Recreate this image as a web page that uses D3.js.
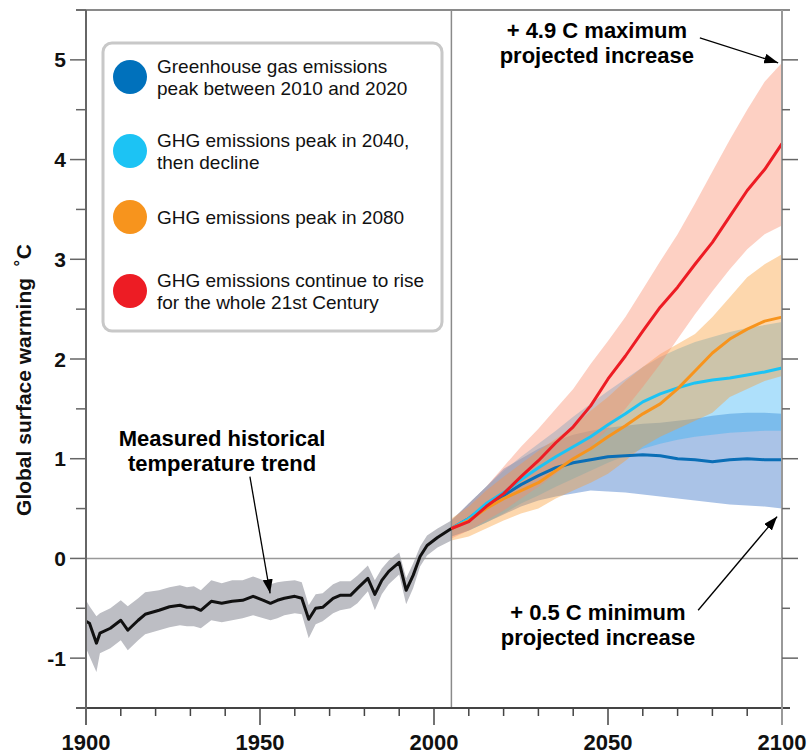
<!DOCTYPE html>
<html>
<head>
<meta charset="utf-8">
<script src="https://cdn.jsdelivr.net/npm/d3@7"></script>
<style>
    body { margin: 0; background: #fff; }
    svg { display: block; font-family: "Liberation Sans", Arial, sans-serif; }
</style>
</head>
<body>
<svg id="chart"></svg>
<script>
//measured historical trend (year, mean, band low, band high)
var histYears = [1900,1901,1903,1904,1907,1910,1912,1915,1917,1921,1924,1927,1929,1931,1933,1936,1939,1942,1945,1948,1951,1953,1955,1957,1960,1962,1964,1966,1968,1971,1973,1976,1978,1981,1983,1985,1987,1990,1992,1994,1996,1998,2001,2005]
var histMean = [-0.63,-0.65,-0.85,-0.75,-0.70,-0.62,-0.72,-0.62,-0.56,-0.52,-0.485,-0.47,-0.49,-0.49,-0.52,-0.43,-0.45,-0.43,-0.42,-0.38,-0.42,-0.45,-0.42,-0.40,-0.38,-0.40,-0.61,-0.50,-0.49,-0.40,-0.37,-0.37,-0.30,-0.20,-0.36,-0.22,-0.13,-0.04,-0.32,-0.17,0.02,0.13,0.21,0.30]
var histLow = [-0.90,-0.98,-1.14,-0.95,-0.90,-0.82,-0.92,-0.82,-0.76,-0.72,-0.69,-0.67,-0.68,-0.68,-0.70,-0.62,-0.64,-0.62,-0.60,-0.57,-0.60,-0.62,-0.60,-0.57,-0.55,-0.56,-0.80,-0.66,-0.63,-0.55,-0.52,-0.50,-0.45,-0.33,-0.52,-0.36,-0.26,-0.16,-0.46,-0.30,-0.08,0.03,0.11,0.18]
var histHigh = [-0.42,-0.48,-0.58,-0.55,-0.50,-0.42,-0.48,-0.40,-0.34,-0.32,-0.29,-0.27,-0.29,-0.28,-0.32,-0.22,-0.25,-0.22,-0.22,-0.18,-0.22,-0.26,-0.24,-0.23,-0.22,-0.24,-0.47,-0.36,-0.35,-0.26,-0.23,-0.23,-0.17,-0.07,-0.22,-0.10,-0.02,0.06,-0.20,-0.05,0.12,0.23,0.30,0.38]

//projections, every 5 years 2005-2100
var projYears = [2005,2010,2015,2020,2025,2030,2035,2040,2045,2050,2055,2060,2065,2070,2075,2080,2085,2090,2095,2100]

var darkBlueMean = [0.30,0.40,0.53,0.63,0.74,0.83,0.91,0.96,0.99,1.02,1.03,1.04,1.03,1.00,0.99,0.97,0.99,1.00,0.99,0.99]
var darkBlueLow  = [0.22,0.28,0.36,0.44,0.52,0.58,0.62,0.65,0.68,0.67,0.66,0.64,0.62,0.60,0.58,0.56,0.54,0.53,0.52,0.50]
var darkBlueHigh = [0.38,0.55,0.72,0.90,1.00,1.10,1.18,1.24,1.28,1.31,1.33,1.35,1.36,1.38,1.40,1.43,1.45,1.46,1.46,1.45]

var lightBlueMean = [0.30,0.40,0.55,0.66,0.79,0.91,1.02,1.12,1.22,1.34,1.45,1.57,1.65,1.71,1.76,1.79,1.81,1.84,1.87,1.91]
var lightBlueLow  = [0.22,0.28,0.36,0.45,0.55,0.63,0.72,0.80,0.88,0.96,1.03,1.10,1.15,1.19,1.22,1.24,1.26,1.27,1.28,1.28]
var lightBlueHigh = [0.38,0.55,0.72,0.88,1.02,1.15,1.28,1.42,1.55,1.68,1.80,1.92,2.02,2.10,2.17,2.22,2.27,2.31,2.34,2.37]

var orangeMean = [0.30,0.38,0.50,0.60,0.68,0.76,0.88,1.00,1.10,1.22,1.33,1.45,1.55,1.70,1.88,2.06,2.20,2.30,2.38,2.42]
var orangeLow  = [0.18,0.22,0.30,0.38,0.45,0.50,0.60,0.68,0.76,0.85,0.98,1.12,1.22,1.30,1.38,1.46,1.62,1.70,1.78,1.83]
var orangeHigh = [0.40,0.52,0.68,0.82,0.95,1.08,1.20,1.32,1.48,1.62,1.78,1.92,2.05,2.15,2.25,2.42,2.62,2.82,2.95,3.05]

var redMean = [0.30,0.37,0.52,0.65,0.82,0.98,1.16,1.32,1.53,1.80,2.03,2.28,2.52,2.72,2.95,3.17,3.43,3.69,3.90,4.16]
var redLow  = [0.20,0.28,0.38,0.48,0.60,0.72,0.85,0.98,1.12,1.30,1.50,1.72,1.95,2.20,2.45,2.68,2.90,3.10,3.25,3.34]
var redHigh = [0.38,0.55,0.72,0.92,1.12,1.30,1.50,1.70,1.95,2.18,2.42,2.70,2.98,3.25,3.56,3.88,4.20,4.50,4.78,4.97]

var legendLabels = [
    ["Greenhouse gas emissions", "peak between 2010 and 2020"],
    ["GHG emissions peak in 2040,", "then decline"],
    ["GHG emissions peak in 2080"],
    ["GHG emissions continue to rise", "for the whole 21st Century"]
]
var yTickLabels = [-1, 0, 1, 2, 3, 4, 5]
var xTickLabels = [1900, 1950, 2000, 2050, 2100]

var dimensions = {
    width: 811,
    height: 755,
    margin: { top: 10, bottom: 47, left: 86, right: 29 }
}

var svg = d3.select("#chart")
            .attr("width", dimensions.width)
            .attr("height", dimensions.height)

var xScale = d3.scaleLinear()
                .domain([1900, 2100])
                .range([dimensions.margin.left, dimensions.width - dimensions.margin.right])

var yScale = d3.scaleLinear()
                .domain([-1.5, 5.5])
                .range([dimensions.height - dimensions.margin.bottom, dimensions.margin.top])

var x0 = xScale(1900), x1 = xScale(2100)
var yTop = yScale(5.5), yBot = yScale(-1.5)

//arrow head
svg.append("defs").append("marker")
    .attr("id", "arrow")
    .attr("markerUnits", "userSpaceOnUse")
    .attr("markerWidth", 14)
    .attr("markerHeight", 10)
    .attr("refX", 14)
    .attr("refY", 5)
    .attr("orient", "auto")
    .append("path")
    .attr("d", "M0,0 L14,5 L0,10 Z")
    .attr("fill", "#000")

//historical band + line
var hist = histYears.map((d, i) => ({year: d, mean: histMean[i], lo: histLow[i], hi: histHigh[i]}))

var areaGen = d3.area()
    .x(d => xScale(d.year))
    .y0(d => yScale(d.lo))
    .y1(d => yScale(d.hi))

var lineGen = d3.line()
    .x(d => xScale(d.year))
    .y(d => yScale(d.mean))

svg.append("path")
    .datum(hist)
    .attr("d", areaGen)
    .attr("fill", "#bdbec4")

//projection scenarios
function makeSeries(mean, lo, hi) {
    return projYears.map((d, i) => ({year: d, mean: mean[i], lo: lo[i], hi: hi[i]}))
}
var scenarios = [
    {color: "#0a6eb6", band: "#2a69c3", data: makeSeries(darkBlueMean, darkBlueLow, darkBlueHigh)},
    {color: "#1cc3f4", band: "#34b1f5", data: makeSeries(lightBlueMean, lightBlueLow, lightBlueHigh)},
    {color: "#f7941d", band: "#fa9b32", data: makeSeries(orangeMean, orangeLow, orangeHigh)},
    {color: "#ed1c24", band: "#fa8969", data: makeSeries(redMean, redLow, redHigh)}
]

svg.append("g").selectAll("path")
    .data(scenarios)
    .enter()
    .append("path")
    .attr("d", d => areaGen(d.data))
    .attr("fill", d => d.band)
    .attr("fill-opacity", 0.4)

//grid lines: zero line and 2005 divider
svg.append("line")
    .attr("x1", x0).attr("x2", x1)
    .attr("y1", yScale(0)).attr("y2", yScale(0))
    .attr("stroke", "#999").attr("stroke-width", 1.5)

svg.append("line")
    .attr("x1", xScale(2005)).attr("x2", xScale(2005))
    .attr("y1", yTop).attr("y2", yBot)
    .attr("stroke", "#8a8a8a").attr("stroke-width", 1.5)

svg.append("path")
    .datum(hist)
    .attr("d", lineGen)
    .attr("fill", "none")
    .attr("stroke", "#111")
    .attr("stroke-width", 3)
    .attr("stroke-linejoin", "round")

svg.append("g").selectAll("path")
    .data(scenarios)
    .enter()
    .append("path")
    .attr("d", d => lineGen(d.data))
    .attr("fill", "none")
    .attr("stroke", d => d.color)
    .attr("stroke-width", 3)
    .attr("stroke-linejoin", "round")

//frame
var axisCol = "#666"
svg.append("line").attr("x1", x0 - 10).attr("x2", x1 + 8).attr("y1", yTop).attr("y2", yTop)
    .attr("stroke", "#8a8a8a").attr("stroke-width", 2)
svg.append("line").attr("x1", x0 - 10).attr("x2", x1 + 8).attr("y1", yBot).attr("y2", yBot)
    .attr("stroke", "#444").attr("stroke-width", 2)
svg.append("line").attr("x1", x0).attr("x2", x0).attr("y1", yTop).attr("y2", yBot + 17)
    .attr("stroke", axisCol).attr("stroke-width", 2)
svg.append("line").attr("x1", x1).attr("x2", x1).attr("y1", yTop).attr("y2", yBot + 17)
    .attr("stroke", "#999").attr("stroke-width", 2)

//y ticks, both sides
var yMinor = d3.range(-1.5, 5.51, 0.5)
var yTicks = svg.append("g")
yTicks.selectAll(".yl")
    .data(yMinor)
    .enter()
    .append("line")
    .attr("x1", d => Number.isInteger(d) ? x0 - 16 : x0 - 10)
    .attr("x2", x0)
    .attr("y1", d => yScale(d)).attr("y2", d => yScale(d))
    .attr("stroke", axisCol).attr("stroke-width", 1.5)
yTicks.selectAll(".yr")
    .data(yMinor.filter(d => d > -1.5 && d < 5.5))
    .enter()
    .append("line")
    .attr("x1", x1)
    .attr("x2", d => Number.isInteger(d) ? x1 + 16 : x1 + 8)
    .attr("y1", d => yScale(d)).attr("y2", d => yScale(d))
    .attr("stroke", axisCol).attr("stroke-width", 1.5)

svg.append("g").selectAll("text")
    .data(yTickLabels)
    .enter()
    .append("text")
    .attr("x", x0 - 20)
    .attr("y", d => yScale(d))
    .attr("dy", "0.36em")
    .attr("text-anchor", "end")
    .attr("font-size", 21)
    .attr("font-weight", "bold")
    .attr("fill", "#111")
    .text(d => d)

//x ticks
var xMinor = d3.range(1910, 2100, 10)
svg.append("g").selectAll("line")
    .data(xMinor)
    .enter()
    .append("line")
    .attr("x1", d => xScale(d)).attr("x2", d => xScale(d))
    .attr("y1", yBot)
    .attr("y2", d => d % 50 == 0 ? yBot + 17 : yBot + 8)
    .attr("stroke", "#444").attr("stroke-width", 1.5)

svg.append("g").selectAll("text")
    .data(xTickLabels)
    .enter()
    .append("text")
    .attr("x", d => xScale(d))
    .attr("y", yBot + 42)
    .attr("text-anchor", "middle")
    .attr("font-size", 22)
    .attr("font-weight", "bold")
    .attr("fill", "#111")
    .text(d => d)

//y title
svg.append("text")
    .attr("transform", "translate(31,380) rotate(-90)")
    .attr("text-anchor", "middle")
    .attr("font-size", 21)
    .attr("font-weight", "bold")
    .attr("fill", "#111")
    .style("white-space", "pre")
    .text("Global surface warming  \u02daC")

//legend
var legend = svg.append("g")
legend.append("rect")
    .attr("x", 103).attr("y", 43)
    .attr("width", 339).attr("height", 288)
    .attr("rx", 9)
    .attr("fill", "#fff")
    .attr("stroke", "#c8c8c8")
    .attr("stroke-width", 3)

var rowY = [77, 151, 217, 291]
var legendColors = ["#0071bc", "#1cc3f4", "#f7941d", "#ed1c24"]
var rows = legend.selectAll(".row")
    .data(legendLabels)
    .enter()
    .append("g")
    .attr("transform", (d, i) => `translate(0,${rowY[i]})`)
rows.append("circle")
    .attr("cx", 130).attr("cy", 0).attr("r", 17)
    .attr("fill", (d, i) => legendColors[i])
rows.each(function(d) {
    var t = d3.select(this).append("text")
        .attr("x", 157)
        .attr("font-size", 19)
        .attr("fill", "#111")
    d.forEach(function(line, j) {
        var off = d.length == 1 ? 7 : (j == 0 ? -4.5 : 17.5)
        t.append("tspan").attr("x", 157).attr("y", off).text(line)
    })
})

//annotations
var notes = [
    {lines: ["+ 4.9 C maximum", "projected increase"], x: 2046.8, y: 5.22, from: [2076.4, 5.22], to: [2098.9, 4.97]},
    {lines: ["+ 0.5 C minimum", "projected increase"], x: 2047.1, y: -0.62, from: [2075.9, -0.52], to: [2098.6, 0.42]},
    {lines: ["Measured historical", "temperature trend"], x: 1939.1, y: 1.13, from: [1947.1, 0.82], to: [1952.9, -0.35]}
]
var ann = svg.append("g")
notes.forEach(function(n) {
    var t = ann.append("text")
        .attr("text-anchor", "middle")
        .attr("font-size", 22)
        .attr("font-weight", "bold")
        .attr("fill", "#000")
    n.lines.forEach(function(l, j) {
        t.append("tspan")
            .attr("x", xScale(n.x))
            .attr("y", yScale(n.y) + j * 25)
            .text(l)
    })
    ann.append("line")
        .attr("x1", xScale(n.from[0])).attr("y1", yScale(n.from[1]))
        .attr("x2", xScale(n.to[0])).attr("y2", yScale(n.to[1]))
        .attr("stroke", "#000")
        .attr("stroke-width", 1.3)
        .attr("marker-end", "url(#arrow)")
})
</script>
</body>
</html>
